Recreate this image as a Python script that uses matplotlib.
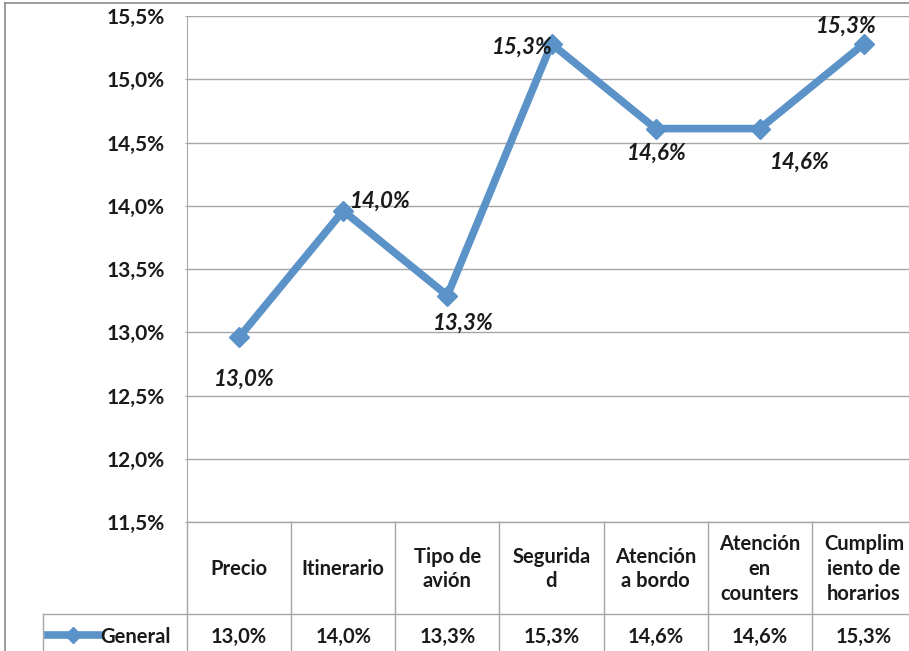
import matplotlib
matplotlib.use('Agg')
import matplotlib.pyplot as plt
from matplotlib.lines import Line2D
from matplotlib.ticker import FuncFormatter
import numpy as np

plt.rcParams['font.family'] = ['Lato', 'DejaVu Sans']

# Chart data
categories = ['Precio', 'Itinerario', 'Tipo de\navión', 'Segurida\nd',
              'Atención\na bordo', 'Atención\nen\ncounters', 'Cumplim\niento de\nhorarios']
general = [12.96, 13.96, 13.29, 15.28, 14.61, 14.61, 15.28]
series_name = 'General'
y_ticks = [11.5, 12.0, 12.5, 13.0, 13.5, 14.0, 14.5, 15.0, 15.5]

# Label offsets (pixels) and alignment for each point label
label_offsets = [(5, -42, 'center'), (7, 10, 'left'), (16, -28, 'center'), (-29, -3, 'center'),
                 (1, -25, 'center'), (40, -34, 'center'), (-18, 18, 'center')]


def pct(v):
    return f'{v:.1f}%'.replace('.', ',')


W, H = 909, 651
fig = plt.figure(figsize=(W / 100, H / 100), dpi=100)

# Plot area in pixel units
left_px, right_px, top_px, bottom_px = 187, 916, 16, 522
ax = fig.add_axes([left_px / W, 1 - bottom_px / H, (right_px - left_px) / W, (bottom_px - top_px) / H])

line_color = '#5B93C9'
grid_color = '#A6A6A6'
text_color = '#1a1a1a'
table_fs = 14.5

x = np.arange(len(categories))
ax.plot(x, general, color=line_color, lw=5.5, marker='D', markersize=10,
        markerfacecolor=line_color, markeredgecolor=line_color, solid_joinstyle='miter', zorder=3)

ax.set_xlim(-0.5, len(categories) - 0.5)
ax.set_ylim(y_ticks[0], y_ticks[-1])
ax.set_yticks(y_ticks)
ax.yaxis.set_major_formatter(FuncFormatter(lambda v, p: pct(v)))
ax.set_xticks([])
ax.grid(axis='y', color=grid_color, lw=1)
ax.set_axisbelow(True)
for s in ['top', 'right', 'bottom']:
    ax.spines[s].set_visible(False)
ax.spines['left'].set_color(grid_color)
ax.tick_params(axis='y', length=1.5, color=grid_color, pad=14.5, labelsize=15, labelcolor=text_color)
for lab in ax.get_yticklabels():
    lab.set_fontweight('bold')

# Point labels
for xi, v, (dx, dy, ha) in zip(x, general, label_offsets):
    ax.annotate(pct(v), (xi, v), xytext=(dx, dy), textcoords='offset pixels',
                ha=ha, va='center', fontsize=16, fontweight='bold', fontstyle='italic',
                color=text_color, zorder=4)

# Data table under the plot
plot_h = bottom_px - top_px
col_w = (right_px - left_px) / len(categories)
header_bottom = -(614 - bottom_px) / plot_h
table_bottom = -(H + 10 - bottom_px) / plot_h
legend_left = -0.5 - (left_px - 43) / col_w
trans = ax.get_xaxis_transform()

ax.add_line(Line2D([-0.5, 7.0], [0, 0], transform=trans, color=grid_color, lw=1, clip_on=False))
ax.add_line(Line2D([legend_left, 7.0], [header_bottom, header_bottom], transform=trans,
                   color=grid_color, lw=1, clip_on=False))
for i in range(len(categories) + 1):
    ax.add_line(Line2D([i - 0.5, i - 0.5], [0, table_bottom], transform=trans,
                       color=grid_color, lw=1, clip_on=False))
ax.add_line(Line2D([legend_left, legend_left], [header_bottom, table_bottom], transform=trans,
                   color=grid_color, lw=1, clip_on=False))

header_mid = -(569 - bottom_px) / plot_h
value_mid = -(637 - bottom_px) / plot_h
for xi, cat, v in zip(x, categories, general):
    ax.text(xi, header_mid, cat, transform=trans, ha='center', va='center', fontsize=table_fs,
            fontweight='bold', color=text_color, linespacing=1.3, clip_on=False)
    ax.text(xi, value_mid, pct(v), transform=trans, ha='center', va='center', fontsize=table_fs,
            fontweight='bold', color=text_color, clip_on=False)

# Legend key in the table row
key_y = 1 - 635 / H
fig.add_artist(Line2D([48 / W, 99 / W], [key_y, key_y], color=line_color, lw=5.5))
fig.add_artist(Line2D([73 / W], [key_y], color=line_color, marker='D', markersize=8))
fig.text(100 / W, 1 - 637 / H, series_name, ha='left', va='center', fontsize=table_fs,
         fontweight='bold', color=text_color)

# Outer chart frame
fig.add_artist(Line2D([5 / W, 5 / W], [0, 1 - 3 / H], color='#8C8C8C', lw=1.2))
fig.add_artist(Line2D([5 / W, 1], [1 - 3 / H, 1 - 3 / H], color='#8C8C8C', lw=1.2))

fig.savefig('out.png', dpi=100)
plt.close(fig)
